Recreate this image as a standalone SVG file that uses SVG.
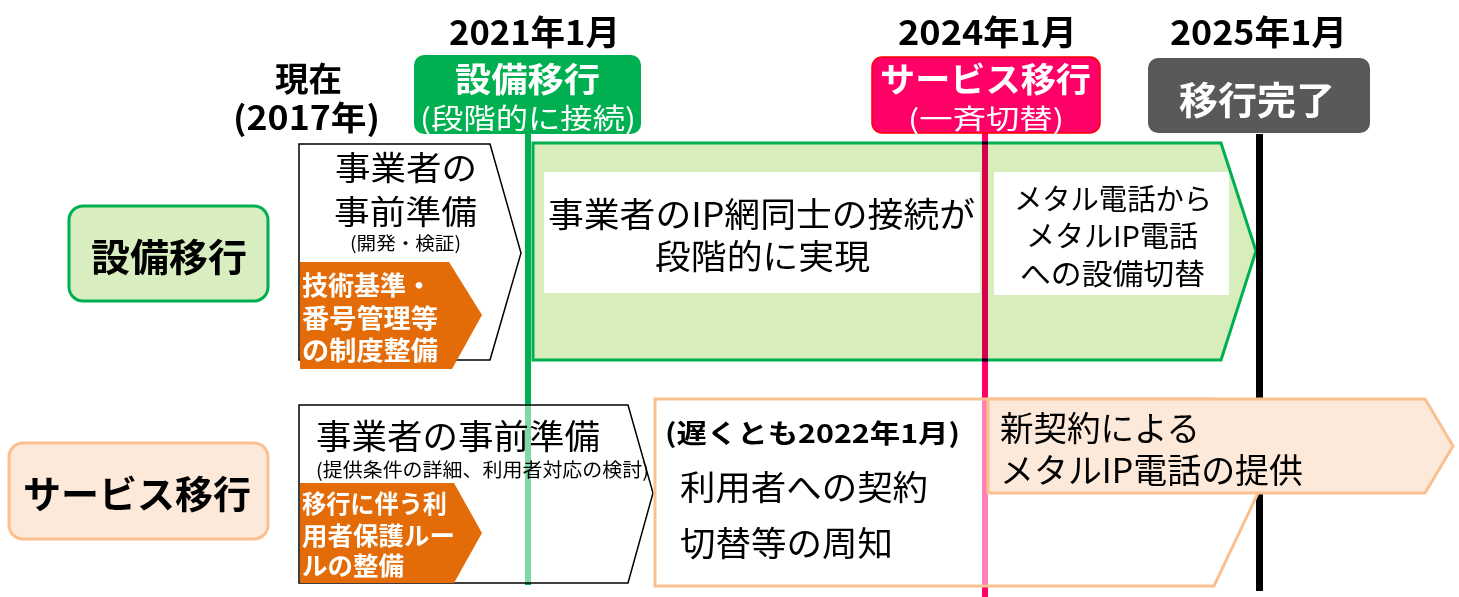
<svg xmlns="http://www.w3.org/2000/svg" width="1459" height="597" viewBox="0 0 1459 597">
<style>
text{font-family:"Noto Sans CJK JP","Noto Sans",sans-serif;fill:#000}
.b{font-weight:700}
.w{fill:#fff}
.hdr{stroke:none}
.vline{fill:none;mix-blend-mode:multiply}
</style>
<rect x="0" y="0" width="1459" height="597" fill="#fff"/>

<g id="date-2021"><text class="b" x="449" y="45" font-size="34" textLength="171" lengthAdjust="spacingAndGlyphs">2021年1月</text></g>
<g id="date-2024"><text class="b" x="898" y="45" font-size="34" textLength="179" lengthAdjust="spacingAndGlyphs">2024年1月</text></g>
<g id="date-2025"><text class="b" x="1170" y="45" font-size="34" textLength="177" lengthAdjust="spacingAndGlyphs">2025年1月</text></g>
<g id="now">
<text class="b" x="275" y="91" font-size="33" textLength="67" lengthAdjust="spacingAndGlyphs">現在</text>
<text class="b" x="233" y="130" font-size="33" textLength="147" lengthAdjust="spacingAndGlyphs">(2017年)</text>
</g>

<g id="hdr-equip">
<rect x="414" y="55" width="227" height="79" rx="10" fill="#00B050"/>
<text class="b w" x="455" y="92" font-size="34" textLength="145" lengthAdjust="spacingAndGlyphs">設備移行</text>
<text class="w" x="420" y="129" font-size="28" textLength="216" lengthAdjust="spacingAndGlyphs">(段階的に接続)</text>
</g>
<g id="hdr-service">
<rect x="872" y="57" width="228" height="76" rx="10" fill="#FF0066" stroke="#FF0000" stroke-width="1.5"/>
<text class="b w" x="880" y="92" font-size="34" textLength="211" lengthAdjust="spacingAndGlyphs">サービス移行</text>
<text class="w" x="908" y="129" font-size="27" textLength="156" lengthAdjust="spacingAndGlyphs">(一斉切替)</text>
</g>
<g id="hdr-done">
<rect x="1148" y="58" width="222" height="75" rx="10" fill="#595959"/>
<text class="b w" x="1179" y="114" font-size="38" textLength="156" lengthAdjust="spacingAndGlyphs">移行完了</text>
</g>

<g id="label-equip">
<rect x="69" y="206" width="199" height="95" rx="14" fill="#D8EEC0" stroke="#00B050" stroke-width="3"/>
<text class="b" x="91" y="271" font-size="38" textLength="156" lengthAdjust="spacingAndGlyphs">設備移行</text>
</g>
<g id="label-service">
<rect x="9" y="443" width="259" height="96" rx="14" fill="#FDE9D9" stroke="#FAC090" stroke-width="3"/>
<text class="b" x="23" y="508" font-size="38" textLength="228" lengthAdjust="spacingAndGlyphs">サービス移行</text>
</g>

<g id="equip-prep">
<polygon points="299,144 490,144 521,253 490,360 299,360" fill="#fff" stroke="#000" stroke-width="1.5"/>
<text x="335" y="180" font-size="33" textLength="142" lengthAdjust="spacingAndGlyphs">事業者の</text>
<text x="334" y="224" font-size="33" textLength="143" lengthAdjust="spacingAndGlyphs">事前準備</text>
<text x="350" y="250" font-size="18" textLength="111" lengthAdjust="spacingAndGlyphs">(開発・検証)</text>
</g>
<g id="equip-rules">
<polygon points="300,262 449,262 482,315 452,369 300,369" fill="#E36C09"/>
<text class="b w" x="302" y="295" font-size="26" textLength="130" lengthAdjust="spacingAndGlyphs">技術基準・</text>
<text class="b w" x="302" y="328" font-size="26" textLength="136" lengthAdjust="spacingAndGlyphs">番号管理等</text>
<text class="b w" x="302" y="360" font-size="26" textLength="136" lengthAdjust="spacingAndGlyphs">の制度整備</text>
</g>

<g id="equip-phase">
<polygon points="533,143 1221,143 1256,251 1221,360 533,360" fill="#D7EDBC" stroke="#00B050" stroke-width="3"/>
</g>
<g id="equip-ip">
<rect x="544" y="172" width="436" height="121" fill="#fff"/>
<text x="548" y="227" font-size="34" textLength="427" lengthAdjust="spacingAndGlyphs">事業者のIP網同士の接続が</text>
<text x="655" y="269" font-size="34" textLength="215" lengthAdjust="spacingAndGlyphs">段階的に実現</text>
</g>
<g id="equip-switch">
<rect x="994" y="172" width="235" height="123" fill="#fff"/>
<text x="1014" y="210" font-size="29" textLength="198" lengthAdjust="spacingAndGlyphs">メタル電話から</text>
<text x="1026" y="247" font-size="29" textLength="172" lengthAdjust="spacingAndGlyphs">メタルIP電話</text>
<text x="1020" y="285" font-size="29" textLength="185" lengthAdjust="spacingAndGlyphs">への設備切替</text>
</g>

<g id="connectors">
<line class="vline" x1="528" y1="134" x2="528" y2="585" stroke="#00B050" stroke-width="6"/>
<line class="vline" x1="985" y1="133" x2="985" y2="597" stroke="#FF0066" stroke-width="6"/>
<line class="vline" x1="1259.5" y1="134" x2="1259.5" y2="591" stroke="#000" stroke-width="7"/>
</g>

<g id="service-prep">
<polygon points="299,405 628,405 653,493 628,583 299,583" fill="#fff" fill-opacity="0.5" stroke="#000" stroke-width="1.5"/>
<text x="316" y="449" font-size="34" textLength="284" lengthAdjust="spacingAndGlyphs">事業者の事前準備</text>
<text x="316" y="477" font-size="19" textLength="333" lengthAdjust="spacingAndGlyphs">(提供条件の詳細、利用者対応の検討)</text>
</g>
<g id="service-rules">
<polygon points="300,483 454,483 482,533 454,583 300,583" fill="#E36C09"/>
<text class="b w" x="302" y="513" font-size="25" textLength="145" lengthAdjust="spacingAndGlyphs">移行に伴う利</text>
<text class="b w" x="302" y="545" font-size="25" textLength="153" lengthAdjust="spacingAndGlyphs">用者保護ルー</text>
<text class="b w" x="302" y="575" font-size="25" textLength="102" lengthAdjust="spacingAndGlyphs">ルの整備</text>
</g>
<g id="service-notice">
<polygon points="655,399 1214,399 1258,493 1214,586 655,586" fill="#fff" fill-opacity="0.5" stroke="#FAC090" stroke-width="3"/>
<text class="b" x="665" y="443" font-size="26" textLength="295" lengthAdjust="spacingAndGlyphs">(遅くとも2022年1月)</text>
<text x="680" y="500" font-size="34" textLength="248" lengthAdjust="spacingAndGlyphs">利用者への契約</text>
<text x="680" y="556" font-size="34" textLength="213" lengthAdjust="spacingAndGlyphs">切替等の周知</text>
</g>
<g id="service-new">
<polygon points="988,399 1425,399 1453,446 1425,493 988,493" fill="#FDE9D9" stroke="#FAC090" stroke-width="3"/>
<text x="1000" y="441" font-size="34" textLength="200" lengthAdjust="spacingAndGlyphs">新契約による</text>
<text x="1000" y="483" font-size="34" textLength="303" lengthAdjust="spacingAndGlyphs">メタルIP電話の提供</text>
</g>
</svg>
